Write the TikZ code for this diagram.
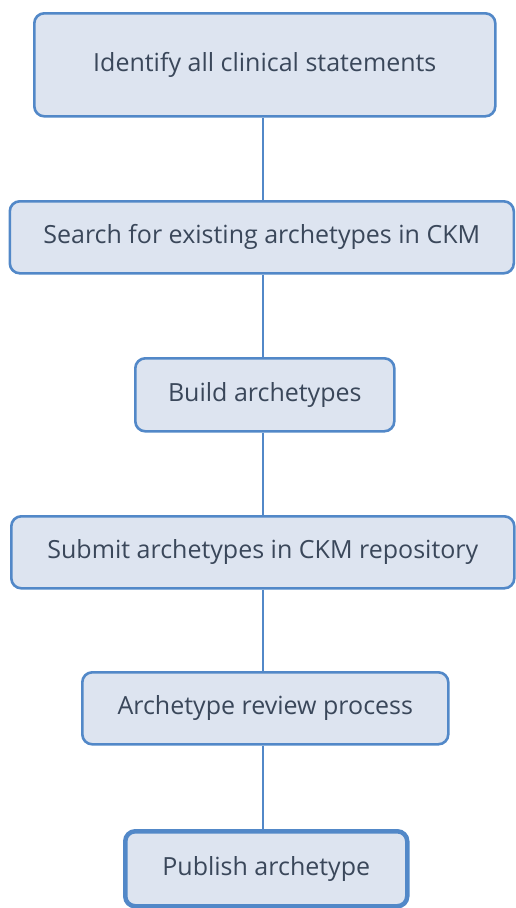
\documentclass[tikz,border=0pt]{standalone}
\usepackage{fontspec}
\setmainfont{Open Sans}
\definecolor{boxfill}{HTML}{DDE4F0}
\definecolor{boxline}{HTML}{5288C8}
\definecolor{boxtext}{HTML}{3A475A}
\begin{document}
\begin{tikzpicture}[x=1pt,y=-1pt,
  stepbox/.style={draw=boxline,fill=boxfill,line width=2.6pt,rounded corners=10pt,
    text=boxtext,font=\fontsize{25}{30}\selectfont,inner sep=0pt,anchor=north west},
  link/.style={draw=boxline,line width=1.3pt}]
\useasboundingbox (0,0) rectangle (515,908);
\node[stepbox,minimum width=461pt,minimum height=103pt] (s1) at (33,12) {Identify all clinical statements};
\node[stepbox,minimum width=504pt,minimum height=72pt] (s2) at (8.5,200) {Search for existing archetypes in CKM};
\node[stepbox,minimum width=259pt,minimum height=73pt] (s3) at (134,357) {Build archetypes};
\node[stepbox,minimum width=503pt,minimum height=72pt] (s4) at (10,515) {Submit archetypes in CKM repository};
\node[stepbox,minimum width=366pt,minimum height=72pt] (s5) at (81,671) {Archetype review process};
\node[stepbox,line width=4.5pt,minimum width=282pt,minimum height=75pt] (s6) at (123,829) {Publish archetype};
\draw[link] (s1.south -| 263,0) -- (s2.north -| 263,0);
\draw[link] (s2.south -| 263,0) -- (s3.north -| 263,0);
\draw[link] (s3.south -| 263,0) -- (s4.north -| 263,0);
\draw[link] (s4.south -| 263,0) -- (s5.north -| 263,0);
\draw[link] (s5.south -| 263,0) -- (s6.north -| 263,0);
\end{tikzpicture}
\end{document}
